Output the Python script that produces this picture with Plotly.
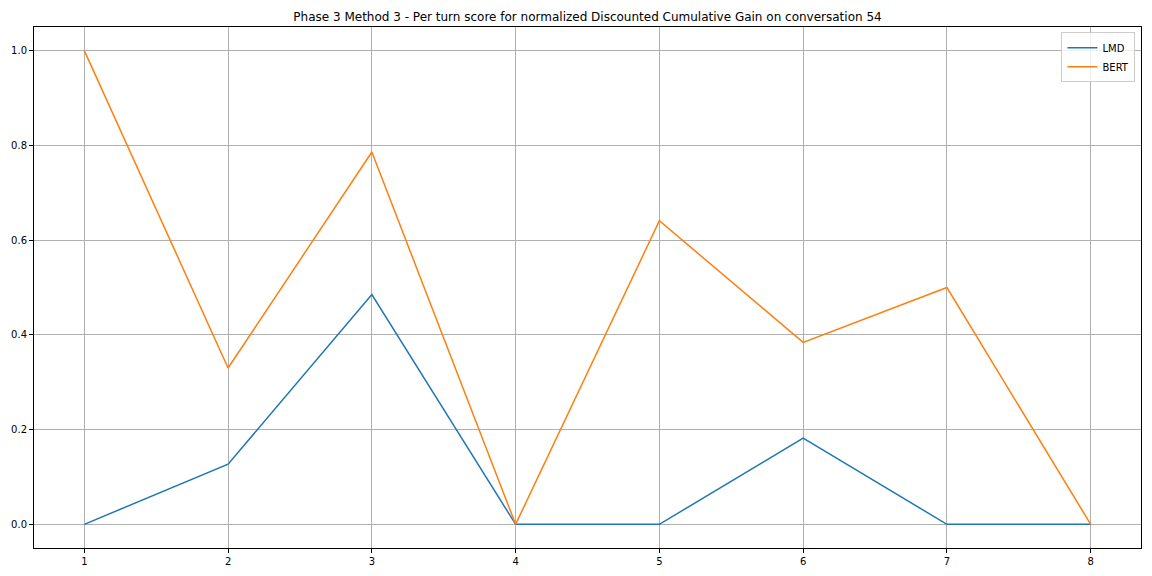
import plotly.graph_objects as go

turns = [1, 2, 3, 4, 5, 6, 7, 8]
lmd_scores = [0.0, 0.127, 0.485, 0.0, 0.0, 0.182, 0.0, 0.0]
bert_scores = [1.0, 0.33, 0.786, 0.0, 0.641, 0.384, 0.5, 0.0]

colours = {"LMD": "#1f77b4", "BERT": "#ff7f0e"}

fig = go.Figure()
fig.add_trace(go.Scatter(x=turns, y=lmd_scores, mode="lines", name="LMD",
                         line=dict(color=colours["LMD"], width=1.5)))
fig.add_trace(go.Scatter(x=turns, y=bert_scores, mode="lines", name="BERT",
                         line=dict(color=colours["BERT"], width=1.5)))

axis_common = dict(showline=True, linecolor="black", linewidth=1, mirror=True,
                   showgrid=True, gridcolor="#b0b0b0", gridwidth=0.8,
                   ticks="outside", ticklen=4, tickcolor="black", automargin=False,
                   zeroline=False, tickfont=dict(size=10, color="black"))

# page body has an 8px margin, so the figure is shrunk to fit the window
fig.update_layout(
    width=1144, height=568,
    margin=dict(l=26, r=11, t=19, b=28),
    paper_bgcolor="white", plot_bgcolor="white",
    font=dict(family="DejaVu Sans", color="black"),
    title=dict(text="Phase 3 Method 3 - Per turn score for normalized Discounted Cumulative Gain on conversation 54",
               x=0.5, xanchor="center", xref="paper", y=1 - 9 / 568, yanchor="middle",
               font=dict(size=12)),
    xaxis=dict(range=[0.65, 8.35], tickmode="array", tickvals=turns, **axis_common),
    yaxis=dict(range=[-0.05, 1.05], tickmode="array", tickvals=[0.0, 0.2, 0.4, 0.6, 0.8, 1.0],
               ticktext=["0.0", "0.2", "0.4", "0.6", "0.8", "1.0"], **axis_common),
    legend=dict(x=0.995, y=0.99, xanchor="right", yanchor="top",
                bgcolor="rgba(255,255,255,0.8)", bordercolor="#cccccc", borderwidth=1,
                font=dict(size=10), itemwidth=30, tracegroupgap=0),
    showlegend=True,
)

fig.write_html("out.html")
